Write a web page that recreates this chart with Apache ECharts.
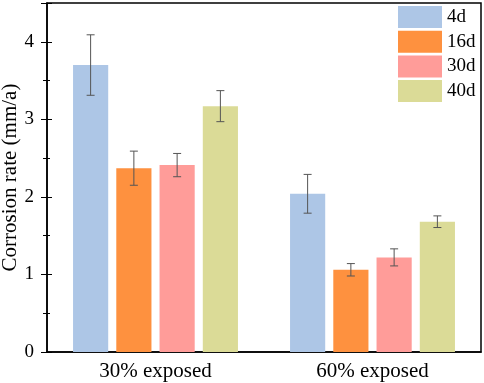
<!DOCTYPE html>
<html>
<head>
<meta charset="utf-8">
<script src="https://cdn.jsdelivr.net/npm/echarts@6/dist/echarts.min.js"></script>
<style>
  html, body { margin: 0; padding: 0; background: #fff; }
  #chart { width: 484px; height: 383px; }
</style>
</head>
<body>
<div id="chart"></div>
<script>
const categories = ["30% exposed", "60% exposed"];
const seriesNames = ["4d", "16d", "30d", "40d"];
const colors = ["#adc6e6", "#fe913f", "#ff9c99", "#dbdb97"];
// mean corrosion rate (mm/a)
const rate4d = [3.70, 2.04];
const rate16d = [2.37, 1.06];
const rate30d = [2.41, 1.22];
const rate40d = [3.17, 1.68];
// error (half range)
const err4d = [0.39, 0.25];
const err16d = [0.22, 0.08];
const err30d = [0.15, 0.11];
const err40d = [0.20, 0.075];

const rates = [rate4d, rate16d, rate30d, rate40d];
const errs = [err4d, err16d, err30d, err40d];

const FONT = "Liberation Serif";
const CAT_GAP = 0.24;
const BAR_GAP = 0.23;

const chart = echarts.init(document.getElementById("chart"));

// error bars drawn over each bar
function errorSeries(idx) {
  return {
    type: "custom",
    name: seriesNames[idx],
    z: 10,
    silent: true,
    data: rates[idx].map((v, i) => [i, v - errs[idx][i], v + errs[idx][i]]),
    renderItem(params, api) {
      const band = api.size([1, 0])[0];
      const bw = (band * (1 - CAT_GAP)) / (4 + 3 * BAR_GAP);
      const c = api.coord([api.value(0), 0]);
      const x = c[0] + (idx - 1.5) * bw * (1 + BAR_GAP);
      const lo = api.coord([api.value(0), api.value(1)])[1];
      const hi = api.coord([api.value(0), api.value(2)])[1];
      const cap = 4;
      const style = { stroke: "#555", lineWidth: 1 };
      return {
        type: "group",
        children: [
          { type: "line", shape: { x1: x, y1: lo, x2: x, y2: hi }, style },
          { type: "line", shape: { x1: x - cap, y1: hi, x2: x + cap, y2: hi }, style },
          { type: "line", shape: { x1: x - cap, y1: lo, x2: x + cap, y2: lo }, style },
        ],
      };
    },
  };
}

const barSeries = seriesNames.map((n, i) => ({
  name: n,
  type: "bar",
  data: rates[i],
  barCategoryGap: CAT_GAP * 100 + "%",
  barGap: BAR_GAP * 100 + "%",
  itemStyle: { color: colors[i] },
}));

const option = {
  backgroundColor: "#fff",
  animation: false,
  textStyle: { fontFamily: FONT },
  grid: {
    left: 47, right: 3, top: 3, bottom: 31,
    outerBoundsMode: "none",
    containLabel: false,
    show: true, borderColor: "#000", borderWidth: 1.5,
  },
  legend: {
    data: seriesNames,
    orient: "vertical",
    left: 398, top: 6,
    padding: 0,
    icon: "rect",
    itemWidth: 44, itemHeight: 22, itemGap: 2.7,
    itemStyle: { borderWidth: 0 },
    textStyle: { fontFamily: FONT, fontSize: 19, color: "#000" },
  },
  xAxis: {
    type: "category",
    data: categories,
    axisLine: { lineStyle: { color: "#000", width: 1.5 } },
    axisTick: { show: false },
    axisLabel: { color: "#000", fontSize: 21, fontFamily: FONT, margin: 9 },
  },
  yAxis: [
    {
      type: "value",
      min: 0, max: 4.5, interval: 1,
      name: "Corrosion rate (mm/a)",
      nameLocation: "middle",
      nameGap: 26,
      nameMoveOverlap: false,
      nameTextStyle: { color: "#000", fontSize: 21, fontFamily: FONT },
      axisLine: { show: true, lineStyle: { color: "#000", width: 1.5 } },
      axisTick: { show: true, inside: false, length: 6, lineStyle: { color: "#000" } },
      minorTick: { show: true, splitNumber: 2, length: 4, lineStyle: { color: "#000" } },
      axisLabel: { color: "#000", fontSize: 19, fontFamily: FONT, margin: 13,
        formatter: (v) => (Number.isInteger(v) ? String(v) : "") },
      splitLine: { show: false },
    },
    {
      type: "value",
      position: "left",
      min: 0, max: 4.5, interval: 1,
      axisLine: { show: false },
      axisTick: { show: true, inside: true, length: 5, lineStyle: { color: "#000" } },
      minorTick: { show: true, splitNumber: 2, length: 3, lineStyle: { color: "#000" } },
      axisLabel: { show: false },
      splitLine: { show: false },
    },
  ],
  series: [...barSeries, ...seriesNames.map((_, i) => errorSeries(i))],
};

chart.setOption(option);
</script>
</body>
</html>
